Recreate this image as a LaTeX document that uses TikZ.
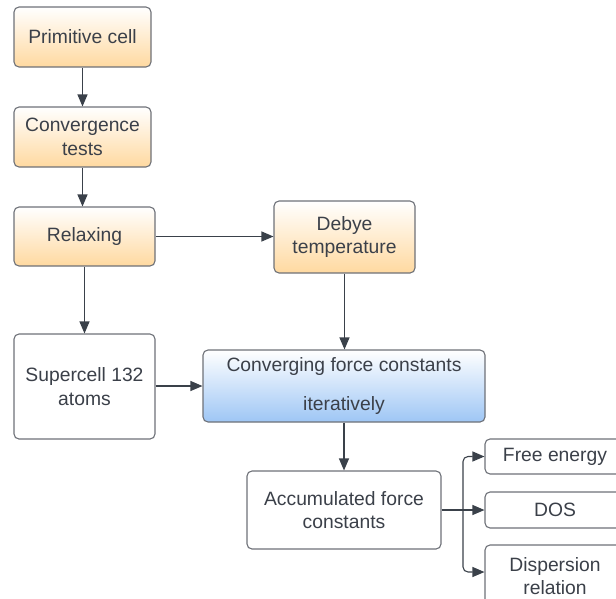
\documentclass[tikz,border=0pt]{standalone}
\usepackage{fontspec}
\setmainfont{Liberation Sans}
\usetikzlibrary{arrows.meta,shadings}
\definecolor{txt}{HTML}{3B4049}
\definecolor{bord}{HTML}{6E7178}
\definecolor{arr}{HTML}{3A414A}
\definecolor{orng}{HTML}{FFD9A0}
\definecolor{blu}{HTML}{9EC6F5}
\tikzset{
  box/.style={draw=bord, line width=1.1pt, rounded corners=5pt, text=txt,
    align=center, font=\fontsize{19.3}{23.5}\selectfont, inner sep=2pt},
  obox/.style={box, top color=white, bottom color=orng},
  bbox/.style={box, top color=white, bottom color=blu},
  wbox/.style={box, fill=white},
  conn/.style={draw=arr, line width=1.1pt, -{Triangle[length=12pt,width=10pt]}},
}
\begin{document}
\begin{tikzpicture}[x=1pt,y=-1pt]
\useasboundingbox (0,0) rectangle (616,598);
\clip (0,0) rectangle (616,598);
\node[obox, minimum width=137, minimum height=60] (prim) at (82.5,37) {Primitive cell};
\node[obox, minimum width=137, minimum height=60] (conv) at (82.5,137) {Convergence\\tests};
\node[obox, minimum width=141, minimum height=59] (relax) at (84.5,236.5) {Relaxing};
\node[obox, minimum width=141, minimum height=72] (debye) at (344.5,237) {Debye\\temperature};
\node[wbox, minimum width=141, minimum height=105] (super) at (84.5,386.5) {Supercell 132\\atoms};
\node[bbox, minimum width=282, minimum height=72] (cfc) at (344,386) {Converging force constants\\[16pt]iteratively};
\node[wbox, minimum width=194, minimum height=78] (acc) at (344,510) {Accumulated force\\constants};
\node[wbox, minimum width=140, minimum height=35] (free) at (555,456.5) {Free energy};
\node[wbox, minimum width=140, minimum height=36] (dos) at (555,510) {DOS};
\node[wbox, minimum width=140, minimum height=62] (disp) at (555,576) {Dispersion\\relation};
\coordinate (split) at (463,510);
\draw[conn] (prim.south) -- (conv.north);
\draw[conn] (conv.south) -- (conv.south |- relax.north);
\draw[conn] (relax.south) -- (super.north);
\draw[conn] (relax.east) -- (relax.east -| debye.west);
\draw[conn] (debye.south) -- (debye.south |- cfc.north);
\draw[conn] (super.east |- cfc.west) -- (cfc.west);
\draw[conn] (cfc.south) -- (cfc.south |- acc.north);
\draw[arr, line width=1.1pt] (acc.east) -- (split);
\draw[conn, rounded corners=5pt] (split) |- (free.west);
\draw[conn] (split) -- (dos.west);
\draw[conn, rounded corners=5pt] (split) |- (disp.west |- 0,572);
\end{tikzpicture}
\end{document}
